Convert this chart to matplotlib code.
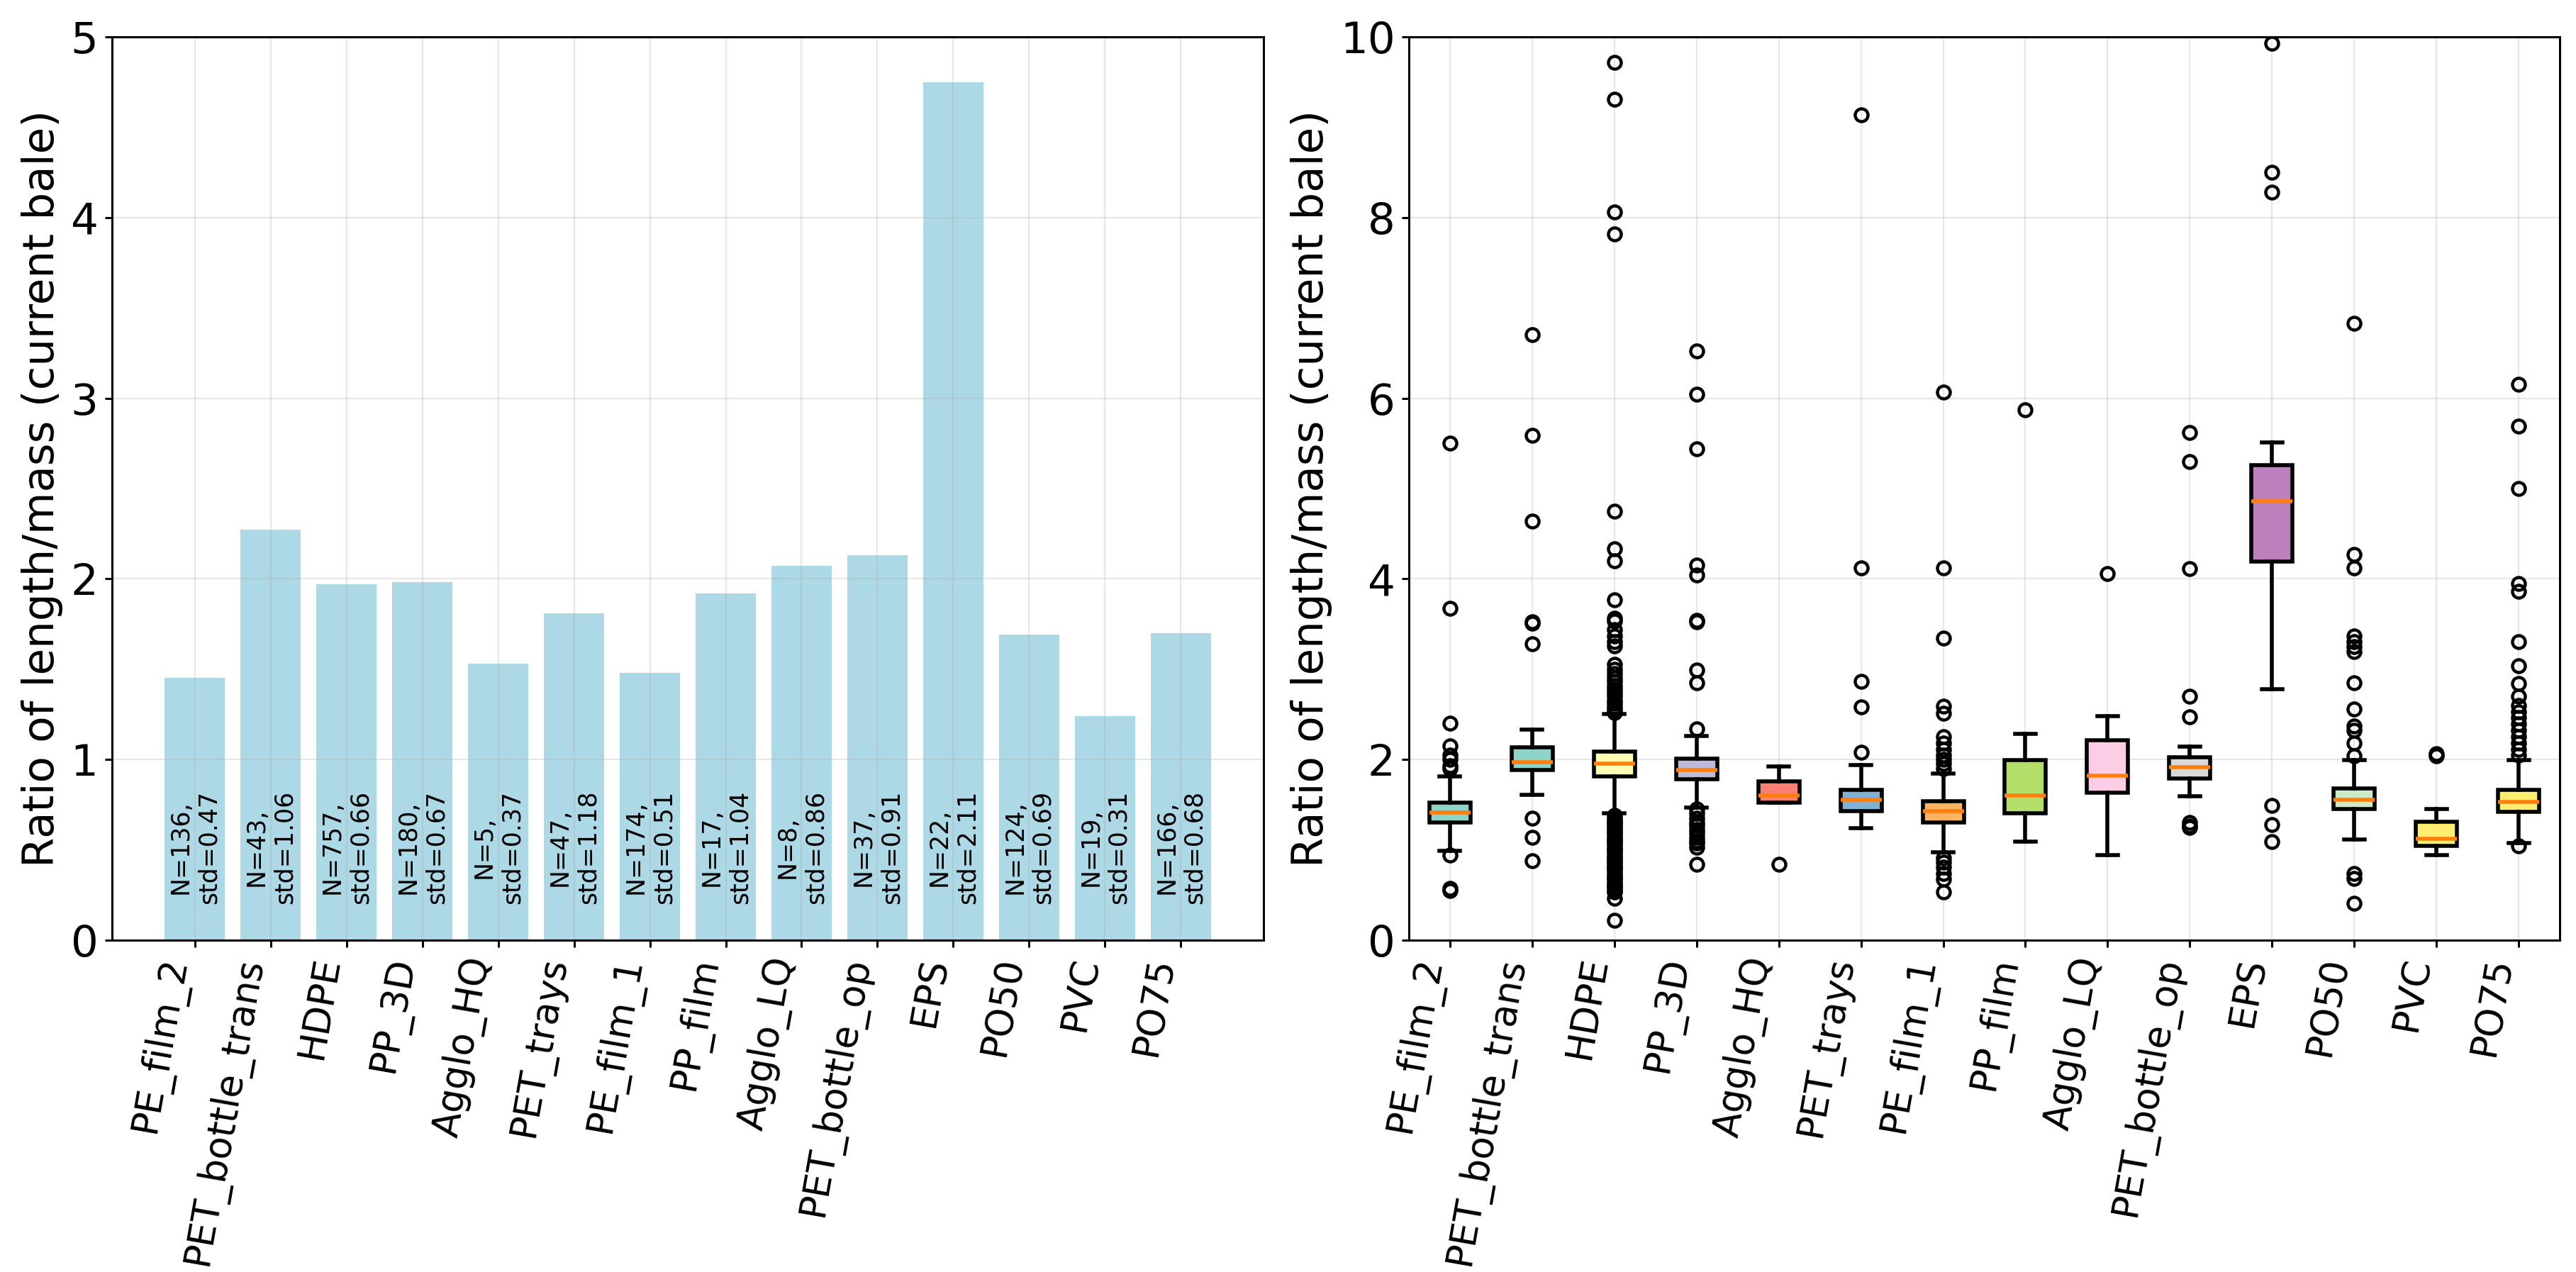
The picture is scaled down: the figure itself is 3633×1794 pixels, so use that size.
import numpy as np
import matplotlib
matplotlib.use('Agg')
import matplotlib.pyplot as plt

plt.rcParams['axes.linewidth'] = 1.1
plt.rcParams['xtick.major.width'] = 1.1
plt.rcParams['ytick.major.width'] = 1.1

# --- data ---
categories = ['PE_film_2', 'PET_bottle_trans', 'HDPE', 'PP_3D', 'Agglo_HQ', 'PET_trays',
              'PE_film_1', 'PP_film', 'Agglo_LQ', 'PET_bottle_op', 'EPS', 'PO50', 'PVC', 'PO75']
mean_ratio = [1.45, 2.27, 1.97, 1.98, 1.53, 1.81, 1.48, 1.92, 2.07, 2.13, 4.75, 1.69, 1.24, 1.70]
n_samples = [136, 43, 757, 180, 5, 47, 174, 17, 8, 37, 22, 124, 19, 166]
std_ratio = [0.47, 1.06, 0.66, 0.67, 0.37, 1.18, 0.51, 1.04, 0.86, 0.91, 2.11, 0.69, 0.31, 0.68]

# box statistics (right panel)
q1 = [1.30, 1.88, 1.81, 1.78, 1.52, 1.43, 1.30, 1.40, 1.63, 1.79, 4.19, 1.45, 1.04, 1.42]
median = [1.41, 1.97, 1.95, 1.88, 1.60, 1.55, 1.43, 1.60, 1.82, 1.91, 4.86, 1.55, 1.12, 1.53]
q3 = [1.52, 2.13, 2.09, 2.01, 1.76, 1.66, 1.54, 1.99, 2.21, 2.02, 5.26, 1.68, 1.31, 1.66]
whis_lo = [0.99, 1.61, 1.40, 1.47, 1.52, 1.24, 0.97, 1.09, 0.94, 1.59, 2.78, 1.11, 0.94, 1.07]
whis_hi = [1.81, 2.33, 2.50, 2.26, 1.92, 1.94, 1.84, 2.28, 2.48, 2.14, 5.51, 1.99, 1.45, 1.99]
outliers = [
    [0.55, 0.57, 0.94, 1.90, 1.93, 2.00, 2.05, 2.15, 2.40, 3.67, 5.50],
    [0.88, 1.14, 1.35, 3.28, 3.51, 3.52, 4.64, 5.59, 6.70],
    [0.22, 0.46, 0.53, 0.55, 0.58, 0.60, 0.62, 0.65, 0.68, 0.70, 0.72, 0.75, 0.78, 0.80,
     0.82, 0.85, 0.88, 0.90, 0.92, 0.95, 0.98, 1.00, 1.02, 1.05, 1.08, 1.10, 1.12, 1.15,
     1.18, 1.20, 1.22, 1.25, 1.28, 1.30, 1.32, 1.35, 1.38,
     2.52, 2.55, 2.58, 2.62, 2.65, 2.70, 2.74, 2.78, 2.82, 2.86, 2.90, 2.95, 3.00, 3.05,
     3.26, 3.30, 3.37, 3.44, 3.53, 3.56, 3.77, 4.20, 4.33, 4.75, 7.82, 8.06, 9.31, 9.72],
    [0.84, 1.03, 1.07, 1.10, 1.14, 1.18, 1.22, 1.27, 1.30, 1.35, 1.40, 1.45,
     2.34, 2.85, 2.99, 3.52, 3.54, 4.04, 4.15, 5.44, 6.04, 6.52],
    [0.84],
    [2.08, 2.58, 2.86, 4.12, 9.14],
    [0.53, 0.67, 0.74, 0.81, 0.86, 0.91, 1.90, 1.95, 2.00, 2.05, 2.11, 2.18, 2.25,
     2.51, 2.59, 3.34, 4.12, 6.07],
    [5.87],
    [4.06],
    [1.25, 1.26, 1.30, 2.47, 2.70, 4.11, 5.30, 5.62],
    [1.09, 1.28, 1.49, 8.28, 8.50, 9.93],
    [0.41, 0.68, 0.74, 2.04, 2.18, 2.32, 2.37, 2.56, 2.85, 3.19, 3.25, 3.30, 3.37,
     4.12, 4.27, 6.83],
    [2.04, 2.06],
    [1.04, 2.05, 2.11, 2.18, 2.25, 2.32, 2.39, 2.46, 2.53, 2.60, 2.70, 2.84, 3.04,
     3.30, 3.86, 3.95, 5.00, 5.69, 6.15],
]

fig = plt.figure(figsize=(3633 / 200, 1794 / 200), dpi=200)
ax1 = fig.add_axes([0.0435, 0.261, 0.447, 0.710])
ax2 = fig.add_axes([0.5469, 0.261, 0.4468, 0.710])

# --- left: mean ratio bars ---
x = np.arange(len(categories))
ax1.bar(x, mean_ratio, color='lightblue')
for i in range(len(categories)):
    ax1.text(x[i], 0.2, f'N={n_samples[i]},\nstd={std_ratio[i]:.2f}',
             rotation=90, ha='center', va='bottom', fontsize=12.5)
ax1.set_xticks(x)
ax1.set_xticklabels(categories, rotation=80, ha='right', fontsize=19)
ax1.set_ylim(0, 5)
ax1.set_ylabel('Ratio of length/mass (current bale)', fontsize=22)
ax1.tick_params(axis='y', labelsize=22)
ax1.grid(True, alpha=0.3)

# --- right: distributions ---
stats = []
for i, name in enumerate(categories):
    stats.append({'label': name, 'q1': q1[i], 'med': median[i], 'q3': q3[i],
                  'whislo': whis_lo[i], 'whishi': whis_hi[i], 'fliers': outliers[i]})
lw = 2.0
bp = ax2.bxp(stats, patch_artist=True,
             boxprops=dict(linewidth=lw),
             whiskerprops=dict(linewidth=lw),
             capprops=dict(linewidth=lw),
             medianprops=dict(color='#ff7f0e', linewidth=lw),
             flierprops=dict(marker='o', markersize=6.5, markeredgewidth=1.6,
                             markerfacecolor='none', markeredgecolor='black'))
colors = plt.cm.Set3(np.linspace(0, 1, len(categories)))
for patch, c in zip(bp['boxes'], colors):
    patch.set_facecolor(c)
ax2.set_xticks(np.arange(1, len(categories) + 1))
ax2.set_xticklabels(categories, rotation=80, ha='right', fontsize=19)
ax2.set_ylim(0, 10)
ax2.set_ylabel('Ratio of length/mass (current bale)', fontsize=22)
ax2.tick_params(axis='y', labelsize=22)
ax2.grid(True, alpha=0.3)

fig.savefig('out.png', dpi=200)
